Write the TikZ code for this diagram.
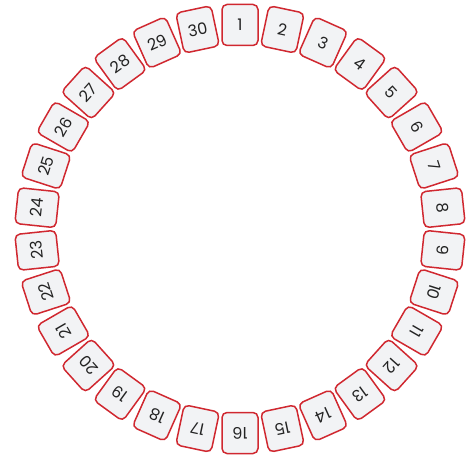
\documentclass[tikz,border=0pt]{standalone}
\usepackage{fontspec}
\setmainfont{Poppins}
\usepackage{tikz}
\usetikzlibrary{calc}
\definecolor{seatred}{RGB}{208,40,48}
\definecolor{seatgray}{RGB}{242,243,245}
\definecolor{seattext}{RGB}{35,35,35}
\tikzset{
  seatbox/.style={draw=seatred, rounded corners=5pt, line width=1.5pt,
    minimum width=36pt, minimum height=41pt, inner sep=0pt, fill=seatgray,
    text=seattext, font=\fontsize{16}{18}\selectfont}
}
\begin{document}
\begin{tikzpicture}[x=1pt,y=1pt]
\useasboundingbox (0,0) rectangle (476,461);
\coordinate (c) at (240,232);

\foreach \i in {1,...,30} {
  \pgfmathsetmacro{\ang}{90-12*(\i-1)}
  \node[seatbox, rotate=\ang-90] (s\i) at ($(c)+(\ang:204)$) {\i};
}
\end{tikzpicture}
\end{document}
